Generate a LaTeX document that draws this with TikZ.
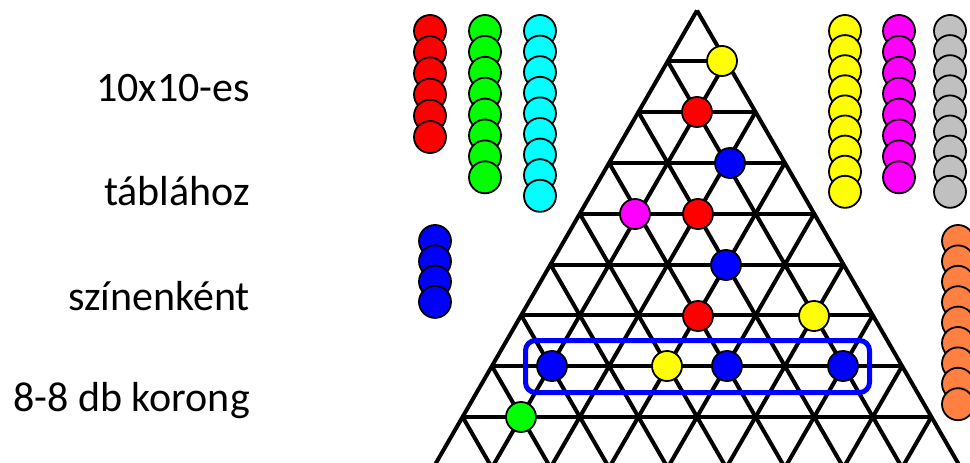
\documentclass[tikz,border=0pt]{standalone}
\usepackage{fontspec}
\setmainfont{Carlito}
\definecolor{cred}{HTML}{FF0000}
\definecolor{cgreen}{HTML}{00FF00}
\definecolor{ccyan}{HTML}{00FFFF}
\definecolor{cyellow}{HTML}{FFFF00}
\definecolor{cmagenta}{HTML}{FF00FF}
\definecolor{cgray}{HTML}{C0C0C0}
\definecolor{cblue}{HTML}{0000FF}
\definecolor{corange}{HTML}{FF8040}
\begin{document}
\begin{tikzpicture}[x=1pt,y=-1pt,
  gridline/.style={line width=4pt},
  disk/.style={circle, draw=black, line width=1.8pt, minimum size=30pt, inner sep=0pt},
  stackdisk/.style={circle, draw=black, line width=1.8pt, minimum size=32pt, inner sep=0pt},
  label/.style={anchor=base east, inner sep=0pt, font=\fontsize{42}{50}\selectfont, text=black},
  frame/.style={draw=cblue, line width=5pt, rounded corners=10pt}]
\useasboundingbox[fill=white] (0,0) rectangle (970,463);
% board grid
\begin{scope}
\clip (0,0) rectangle (970,463);
\foreach \r in {1,...,10}
  \draw[gridline] ({697-\r*29.3},{10.5+50.8*\r}) -- ({697+\r*29.3},{10.5+50.8*\r});
\foreach \i in {0,...,10}
  \draw[gridline] ({697+\i*29.3},{10.5+50.8*\i}) -- ({697+(2*\i-10)*29.3},{10.5+508});
\foreach \j in {0,...,10}
  \draw[gridline] ({697-\j*29.3},{10.5+50.8*\j}) -- ({697+(10-2*\j)*29.3},{10.5+508});
\end{scope}
% board pieces
\node[disk, fill=cyellow]  (p1)  at (722,61) {};
\node[disk, fill=cred]     (p2)  at (697,112) {};
\node[disk, fill=cblue]    (p3)  at (730,163) {};
\node[disk, fill=cmagenta] (p4)  at (635,214) {};
\node[disk, fill=cred]     (p5)  at (698,214) {};
\node[disk, fill=cblue]    (p6)  at (726,265) {};
\node[disk, fill=cred]     (p7)  at (698,316) {};
\node[disk, fill=cyellow]  (p8)  at (814,316) {};
\node[disk, fill=cblue]    (p9)  at (552,366) {};
\node[disk, fill=cyellow]  (p10) at (667,366) {};
\node[disk, fill=cblue]    (p11) at (727,366) {};
\node[disk, fill=cblue]    (p12) at (843,366) {};
\node[disk, fill=cgreen]   (p13) at (521,417) {};
% highlighted row
\draw[frame] (525.5,340.5) rectangle (869.5,392.5);
% stacks
\foreach \k in {0,...,5}
  \node[stackdisk, fill=cred] (sr\k) at (430,{31+21.2*\k}) {};
\foreach \k in {0,...,7}
  \node[stackdisk, fill=cgreen] (sg\k) at (485,{31+20.9*\k}) {};
\foreach \k in {0,...,8}
  \node[stackdisk, fill=ccyan] (sc\k) at (540,{31+20.6*\k}) {};
\foreach \k in {0,...,8}
  \node[stackdisk, fill=cyellow] (sy\k) at (845,{31+20.1*\k}) {};
\foreach \k in {0,...,7}
  \node[stackdisk, fill=cmagenta] (sm\k) at (899,{31+20.9*\k}) {};
\foreach \k in {0,...,8}
  \node[stackdisk, fill=cgray] (sq\k) at (950,{31+20.1*\k}) {};
\foreach \k in {0,...,3}
  \node[stackdisk, fill=cblue] (sb\k) at (435,{241+20.3*\k}) {};
\foreach \k in {0,...,8}
  \node[stackdisk, fill=corange] (so\k) at (958,{241+20.4*\k}) {};
% texts
\node[label] (t1) at (250,101.7) {10x10-es};
\node[label] (t2) at (250,205) {táblához};
\node[label] (t3) at (250,310) {színenként};
\node[label] (t4) at (250,411.7) {8-8 db korong};
\end{tikzpicture}
\end{document}
